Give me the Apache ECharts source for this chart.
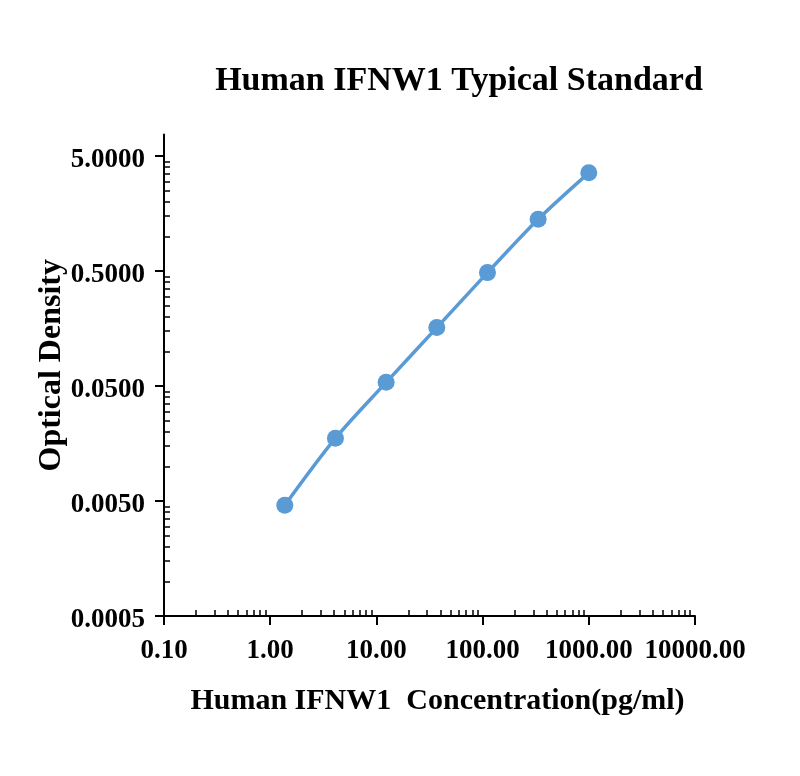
<!DOCTYPE html>
<html>
<head>
<meta charset="utf-8">
<script src="https://cdn.jsdelivr.net/npm/echarts@6/dist/echarts.min.js"></script>
<style>
html,body{margin:0;padding:0;background:#fff;}
#chart{width:800px;height:776px;}
</style>
</head>
<body>
<div id="chart"></div>
<script>
// Data
const concentration = [1.372, 4.115, 12.35, 37.04, 111.1, 333.3, 1000];
const opticalDensity = [0.00459, 0.0176, 0.0538, 0.161, 0.484, 1.41, 3.57];
// Axis tick labels
const xTickValues = [0.1, 1, 10, 100, 1000, 10000];
const yTickValues = [0.0005, 0.005, 0.05, 0.5, 5];
const xMinorTicks = [];
xTickValues.slice(0, -1).forEach(function (d) { for (let k = 2; k <= 9; k++) xMinorTicks.push(+(d * k).toPrecision(6)); });
const yMinorTicks = [];
yTickValues.slice(0, -1).forEach(function (d) { for (let k = 2; k <= 9; k++) yMinorTicks.push(+(d * k).toPrecision(6)); });

const FONT = '"Liberation Serif", "Times New Roman", serif';
const X_MIN = 0.1, X_MAX = 10000, Y_MIN = 0.0005, Y_MAX = 7.69;

const chart = echarts.init(document.getElementById('chart'));
chart.setOption({
  animation: false,
  backgroundColor: '#fff',
  title: {
    text: 'Human IFNW1 Typical Standard',
    left: 454, top: 59, textAlign: 'center',
    textStyle: { fontFamily: FONT, fontWeight: 'bold', fontSize: 34, color: '#000' }
  },
  grid: { left: 164, right: 105, top: 134.5, bottom: 160, containLabel: false, outerBoundsMode: 'none' },
  xAxis: [{
    type: 'log', logBase: 10, min: X_MIN, max: X_MAX, position: 'bottom',
    name: 'Human IFNW1  Concentration(pg/ml)', nameLocation: 'middle', nameGap: 70, nameMoveOverlap: false,
    nameTextStyle: { fontFamily: FONT, fontWeight: 'bold', fontSize: 30, color: '#000', padding: [0, 0, 0, 16] },
    axisLine: { show: true, onZero: false, lineStyle: { color: '#000', width: 2 } },
    axisTick: { show: true, inside: false, length: 9, customValues: xTickValues, lineStyle: { color: '#000', width: 2 } },
    axisLabel: { show: true, margin: 22, customValues: xTickValues, formatter: function (v) { return Number(v).toFixed(2); },
      fontFamily: FONT, fontWeight: 'bold', fontSize: 27, color: '#000' },
    splitLine: { show: false }, minorTick: { show: false }
  }, {
    type: 'log', logBase: 10, min: X_MIN, max: X_MAX, position: 'bottom', offset: 0,
    axisLine: { show: false, onZero: false },
    axisTick: { show: true, inside: true, length: 6, customValues: xMinorTicks, lineStyle: { color: '#000', width: 1.5 } },
    axisLabel: { show: false }, splitLine: { show: false }
  }],
  yAxis: [{
    type: 'log', logBase: 10, min: Y_MIN, max: Y_MAX, position: 'left',
    name: 'Optical Density', nameLocation: 'middle', nameGap: 96, nameRotate: 90, nameMoveOverlap: false,
    nameTextStyle: { fontFamily: FONT, fontWeight: 'bold', fontSize: 32, color: '#000', padding: [0, 0, 0, 20] },
    axisLine: { show: true, onZero: false, lineStyle: { color: '#000', width: 2 } },
    axisTick: { show: true, inside: false, length: 9, customValues: yTickValues, lineStyle: { color: '#000', width: 2 } },
    axisLabel: { show: true, margin: 19, customValues: yTickValues,
      formatter: function (v) { return '{t|' + Number(v).toFixed(4) + '}'; },
      rich: { t: { fontFamily: FONT, fontWeight: 'bold', fontSize: 27, color: '#000', padding: [8, 0, 0, 0] } },
      fontFamily: FONT, fontWeight: 'bold', fontSize: 27, color: '#000' },
    splitLine: { show: false }, minorTick: { show: false }
  }, {
    type: 'log', logBase: 10, min: Y_MIN, max: Y_MAX, position: 'left', offset: 0,
    axisLine: { show: false, onZero: false },
    axisTick: { show: true, inside: true, length: 6, customValues: yMinorTicks, lineStyle: { color: '#000', width: 1.5 } },
    axisLabel: { show: false }, splitLine: { show: false }
  }],
  series: [{
    type: 'line',
    xAxisIndex: 0, yAxisIndex: 0,
    data: concentration.map(function (c, i) { return [c, opticalDensity[i]]; }),
    smooth: 0.3,
    symbol: 'circle', symbolSize: 17,
    lineStyle: { color: '#5b9bd5', width: 3.5 },
    itemStyle: { color: '#5b9bd5' }
  }]
});
</script>
</body>
</html>
